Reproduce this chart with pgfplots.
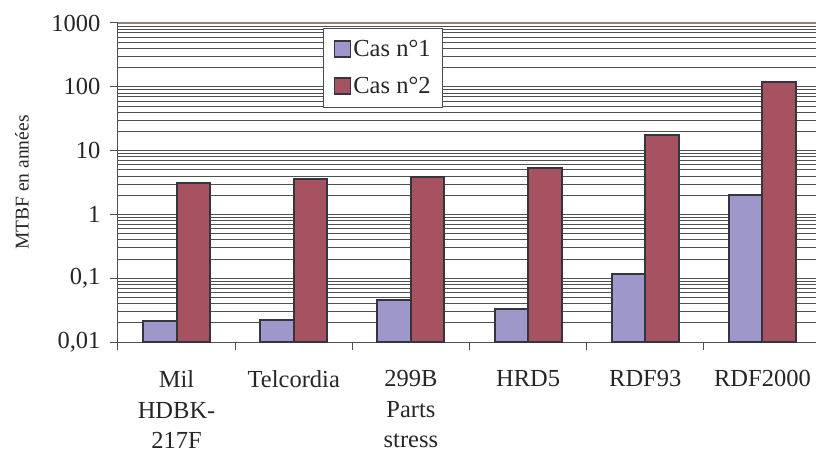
\documentclass[border=0pt]{standalone}
\usepackage{fontspec}
\setmainfont{Liberation Serif}
\usepackage{pgfplots}
\pgfplotsset{compat=1.18}
\definecolor{casA}{HTML}{9E98CA}
\definecolor{casB}{HTML}{A65260}
\definecolor{barline}{HTML}{35353F}
\definecolor{gridc}{HTML}{505050}
\definecolor{topc}{HTML}{8C8279}
\begin{document}
\begin{tikzpicture}
\begin{axis}[
  at={(0,0)}, anchor=south west,
  scale only axis, width=703pt, height=319pt,
  ymode=log, ymin=0.01, ymax=1000, log origin=infty,
  xmin=-0.5, xmax=5.5,
  ybar=0pt, bar width=33.5pt,
  axis lines*=left,
  axis line style={gridc, line width=1pt},
  ytick={0.01,0.1,1,10,100,1000},
  yticklabels={{0,01},{0,1},1,10,100,1000},
  ymajorgrids=true, yminorgrids=true,
  major grid style={gridc, line width=0.9pt},
  minor grid style={gridc, line width=0.8pt},
  tick align=outside, major tick length=8pt, minor tick length=0pt,
  tick style={gridc, line width=1pt},
  xtick={-0.5,0.5,...,5.5},
  xticklabels={{\rmfamily Mil\\HDBK-\\217F},{\rmfamily Telcordia},{\rmfamily 299B\\Parts\\stress},{\rmfamily HRD5},{\rmfamily RDF93},{\rmfamily RDF2000},{}},
  xticklabel style={xshift=58.6pt, yshift=-17pt, align=center},
  yticklabel style={xshift=-6pt},
  every tick label/.append style={font=\rmfamily\fontsize{24.5}{30.5}\selectfont, text=black!85},
  ylabel={MTBF en années},
  ylabel style={at={(rel axis cs:0,0.5)}, anchor=center, yshift=96pt, font=\rmfamily\fontsize{19.5}{24}\selectfont, text=black!85},
  legend style={at={(rel axis cs:0.2919,1)}, yshift=-5pt, anchor=north west,
    draw=black!70, line width=0.8pt, fill=white, font=\rmfamily\fontsize{24.5}{28}\selectfont,
    text=black!85, row sep=15pt, inner xsep=10pt, inner ysep=10pt},
  legend cell align=left,
  legend image code/.code={\draw[#1, line width=1.8pt] (0pt,-8pt) rectangle (16pt,8pt);},
]
\addplot[fill=casA, draw=barline, line width=2pt] coordinates {(0,0.0213) (1,0.0221) (2,0.0455) (3,0.033) (4,0.115) (5,2.0)};
\addplot[fill=casB, draw=barline, line width=2pt] coordinates {(0,3.1) (1,3.6) (2,3.8) (3,5.4) (4,17.4) (5,120)};
\legend{Cas n°1, Cas n°2}
\draw[topc, line width=1.6pt] (rel axis cs:0,1) -- (rel axis cs:1,1);
\end{axis}
\pgfresetboundingbox
\path[use as bounding box] (-118pt,-110pt) rectangle (698pt,342pt);
\end{tikzpicture}
\end{document}
